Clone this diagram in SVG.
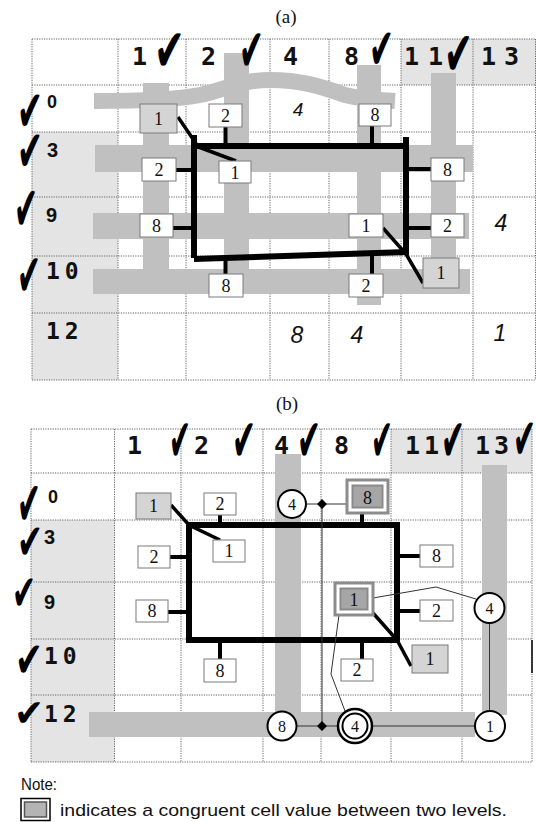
<svg xmlns="http://www.w3.org/2000/svg" width="536" height="822" viewBox="0 0 536 822">
<style>
.bg{fill:#fff}
.shade{fill:#e4e4e4}
.grid{stroke:#666;stroke-width:1;stroke-dasharray:1.2 1.2;fill:none}
.band{fill:#c0c0c0}
.bandp{fill:none;stroke:#c0c0c0;stroke-width:16;stroke-linecap:butt}
.frame{fill:none;stroke:#000;stroke-width:6}
.stem{stroke:#000;stroke-width:4;fill:none}
.diag{stroke:#000;stroke-width:3.5;fill:none}
.thin{stroke:#333;stroke-width:1;fill:none}
.bx{fill:#fff;stroke:#7a7a7a;stroke-width:1}
.sb{fill:#d4d4d4;stroke:#7a7a7a;stroke-width:1}
.co{fill:#fff;stroke:#8c8c8c;stroke-width:3}
.ci{fill:#a6a6a6;stroke:#8a8a8a;stroke-width:2}
.cir{fill:#fff;stroke:#000;stroke-width:2}
.bt{font-family:"Liberation Serif",serif;font-size:18px;text-anchor:middle;fill:#111}
.hd{font-family:"DejaVu Sans Mono",monospace;font-weight:bold;font-size:25px;fill:#111}
.rl{font-family:"Liberation Sans",sans-serif;font-weight:bold;font-size:20px;fill:#111}
.rm{font-family:"DejaVu Sans Mono",monospace;font-weight:bold;font-size:23px;letter-spacing:5px;fill:#111}
.it{font-family:"Liberation Sans",sans-serif;font-style:italic;font-size:23px;text-anchor:middle;fill:#111}
.ck{font-family:"DejaVu Sans",sans-serif;fill:#000}
.ti{font-family:"Liberation Serif",serif;font-size:19px;text-anchor:middle;fill:#111}
.nt{font-family:"Liberation Sans",sans-serif;font-size:17px;fill:#111}
</style>
<rect class="bg" x="0" y="0" width="536" height="822"/>

<text class="ti" x="286" y="23">(a)</text>
<text class="ti" x="287" y="410">(b)</text>

<g id="panel-a">
  <g id="a-shading">
    <rect class="shade" x="401" y="39" width="135" height="46"/>
    <rect class="shade" x="32" y="132" width="86" height="248"/>
  </g>
  <g id="a-grid">
    <path class="grid" d="M32,39V380M118,39V380M186,39V380M270,39V380M329,39V380M401,39V380M473,39V380M535.5,39V380"/>
    <path class="grid" d="M32,39H536M32,85H536M32,132H536M32,197H536M32,256H536M32,313H536M32,380H536"/>
  </g>
  <g id="a-bands">
    <rect class="band" x="143" y="83" width="26" height="210"/>
    <rect class="band" x="224" y="53" width="25" height="240"/>
    <rect class="band" x="357" y="65" width="24" height="240"/>
    <rect class="band" x="431" y="73" width="25" height="190"/>
    <path class="bandp" d="M94,101 C140,101 175,100 200,95 C225,90 240,80 270,80 C300,80 320,86 345,95 C365,100 380,100 395,101"/>
    <rect class="band" x="95" y="145" width="378" height="27"/>
    <rect class="band" x="93" y="213" width="376" height="26"/>
    <rect class="band" x="93" y="269" width="377" height="25"/>
  </g>
  <g id="a-frame">
    <path class="frame" d="M194,135V258M191,146H406M406,137V255M194,259L407,252"/>
  </g>
  <g id="a-connectors">
    <path class="stem" d="M225.5,127V146M372,126V146M176,170H194M406,169H431M173,228H194M406,228H431M225.5,258V274M372,252V274"/>
    <path class="diag" d="M178,117L197,145M196,146L236,161M383,228L406,254L423,283"/>
  </g>
  <g id="a-boxes">
    <g id="a-r0-1"><rect class="sb" x="140" y="104" width="37" height="29"/><text class="bt" x="158.5" y="125">1</text></g>
    <g id="a-r0-2"><rect class="bx" x="209" y="104" width="33" height="23"/><text class="bt" x="225.5" y="122">2</text></g>
    <g id="a-r0-8"><rect class="bx" x="359" y="104" width="32" height="22"/><text class="bt" x="375" y="121">8</text></g>
    <g id="a-r3-2"><rect class="bx" x="142" y="158" width="34" height="23"/><text class="bt" x="159" y="176">2</text></g>
    <g id="a-r3-1"><rect class="bx" x="219" y="161" width="32" height="22"/><text class="bt" x="235" y="179">1</text></g>
    <g id="a-r3-8"><rect class="bx" x="431" y="158" width="33" height="23"/><text class="bt" x="447.5" y="176">8</text></g>
    <g id="a-r9-8"><rect class="bx" x="140" y="214" width="33" height="23"/><text class="bt" x="156.5" y="232">8</text></g>
    <g id="a-r9-1"><rect class="bx" x="349" y="214" width="34" height="23"/><text class="bt" x="366" y="232">1</text></g>
    <g id="a-r9-2"><rect class="bx" x="431" y="214" width="33" height="23"/><text class="bt" x="447.5" y="232">2</text></g>
    <g id="a-r10-1"><rect class="sb" x="423" y="258" width="36" height="30"/><text class="bt" x="441" y="279">1</text></g>
    <g id="a-r10-8"><rect class="bx" x="209" y="274" width="34" height="23"/><text class="bt" x="226" y="292">8</text></g>
    <g id="a-r10-2"><rect class="bx" x="349" y="274" width="34" height="23"/><text class="bt" x="366" y="292">2</text></g>
  </g>
  <g id="a-values">
    <text class="it" x="298" y="116" style="font-size:19px">4</text>
    <text class="it" x="501" y="231">4</text>
    <text class="it" x="297" y="343">8</text>
    <text class="it" x="357" y="343">4</text>
    <text class="it" x="500" y="341">1</text>
  </g>
  <g id="a-labels">
    <text class="hd" x="132" y="65">1</text>
    <text class="hd" x="201" y="65">2</text>
    <text class="hd" x="283" y="65">4</text>
    <text class="hd" x="344" y="65">8</text>
    <text class="hd" x="404" y="65" style="letter-spacing:9px">11</text>
    <text class="hd" x="481" y="65" style="letter-spacing:8px">13</text>
    <text class="rl" x="47" y="108" style="font-size:18px">0</text>
    <text class="rl" x="47" y="157">3</text>
    <text class="rl" x="46" y="222">9</text>
    <text class="rm" x="46" y="279">10</text>
    <text class="rm" x="46" y="339">12</text>
  </g>
  <g id="a-checks">
    <text class="ck" x="154" y="71" font-size="60" textLength="31" lengthAdjust="spacingAndGlyphs">✔</text>
    <text class="ck" x="239" y="71" font-size="60" textLength="25" lengthAdjust="spacingAndGlyphs">✔</text>
    <text class="ck" x="369" y="69" font-size="58" textLength="25" lengthAdjust="spacingAndGlyphs">✔</text>
    <text class="ck" x="444" y="75" font-size="62" textLength="29" lengthAdjust="spacingAndGlyphs">✔</text>
    <text class="ck" x="17" y="131" font-size="58" textLength="26" lengthAdjust="spacingAndGlyphs">✔</text>
    <text class="ck" x="17" y="171" font-size="58" textLength="26" lengthAdjust="spacingAndGlyphs">✔</text>
    <text class="ck" x="14" y="230" font-size="62" textLength="24" lengthAdjust="spacingAndGlyphs">✔</text>
    <text class="ck" x="17" y="296" font-size="60" textLength="24" lengthAdjust="spacingAndGlyphs">✔</text>
  </g>
</g>

<g id="panel-b">
  <g id="b-shading">
    <rect class="shade" x="391" y="429" width="141" height="44"/>
    <rect class="shade" x="31" y="520" width="83.5" height="242"/>
  </g>
  <g id="b-grid">
    <path class="grid" d="M31,429V762M114.5,429V762M181,429V762M263,429V762M321,429V762M391,429V762M462,429V762M532,429V762"/>
    <path class="grid" d="M31,429H532M31,473H532M31,520H532M31,582H532M31,639H532M31,695H532M31,762H532"/>
    <path d="M532,640V673" stroke="#000" stroke-width="1.5"/>
  </g>
  <g id="b-bands">
    <rect class="band" x="275" y="454" width="26" height="260"/>
    <rect class="band" x="482" y="465" width="25" height="250"/>
    <rect class="band" x="89" y="712" width="386" height="25"/>
  </g>
  <g id="b-frame">
    <rect class="frame" x="189" y="525" width="208" height="115"/>
  </g>
  <g id="b-connectors">
    <path class="stem" d="M220,515V525M362,513V525M170,557H189M397,556H420M168,612H189M397,611H420M220,640V659M362,640V659"/>
    <path class="diag" d="M171,505L189,525L220,540M373,613L397,640L411,666"/>
    <path class="thin" d="M306,504H347M322,504V726M296.5,726H338M372,726H475M373,598L436,587L476,599M339,615L331,674L345,711M489.5,623V711"/>
    <path d="M322,499L327,504L322,509L317,504Z M322,721L327,726L322,731L317,726Z" fill="#000"/>
  </g>
  <g id="b-boxes">
    <g id="b-r0-1"><rect class="sb" x="136" y="493" width="35" height="26"/><text class="bt" x="153.5" y="512">1</text></g>
    <g id="b-r0-2"><rect class="bx" x="204" y="493" width="32" height="22"/><text class="bt" x="220" y="510">2</text></g>
    <g id="b-r0-8"><rect class="co" x="347" y="480" width="41" height="33"/><rect class="ci" x="352.5" y="485.5" width="30" height="22"/><text class="bt" x="367.5" y="504">8</text></g>
    <g id="b-r3-2"><rect class="bx" x="138" y="546" width="32" height="22"/><text class="bt" x="154" y="563">2</text></g>
    <g id="b-r3-1"><rect class="bx" x="213" y="540" width="32" height="22"/><text class="bt" x="229" y="557">1</text></g>
    <g id="b-r3-8"><rect class="bx" x="420" y="545" width="33" height="22"/><text class="bt" x="436.5" y="562">8</text></g>
    <g id="b-r9-8"><rect class="bx" x="136" y="600" width="32" height="22"/><text class="bt" x="152" y="617">8</text></g>
    <g id="b-r9-1"><rect class="co" x="335" y="583" width="38" height="32"/><rect class="ci" x="340.5" y="588.5" width="27" height="21"/><text class="bt" x="354" y="606">1</text></g>
    <g id="b-r9-2"><rect class="bx" x="420" y="600" width="33" height="21"/><text class="bt" x="436.5" y="617">2</text></g>
    <g id="b-r10-1"><rect class="sb" x="412" y="645" width="36" height="28"/><text class="bt" x="430" y="665">1</text></g>
    <g id="b-r10-8"><rect class="bx" x="204" y="659" width="32" height="23"/><text class="bt" x="220" y="677">8</text></g>
    <g id="b-r10-2"><rect class="bx" x="341" y="659" width="32" height="22"/><text class="bt" x="357" y="676">2</text></g>
  </g>
  <g id="b-circles">
    <g id="b-c4a"><circle class="cir" cx="292" cy="504" r="14"/><text class="bt" x="292" y="510" style="font-size:16px">4</text></g>
    <g id="b-c4b"><circle class="cir" cx="489.5" cy="608" r="15"/><text class="bt" x="489.5" y="614" style="font-size:16px">4</text></g>
    <g id="b-c8"><circle class="cir" cx="282" cy="726" r="14.5"/><text class="bt" x="282" y="732" style="font-size:16px">8</text></g>
    <g id="b-c4c"><circle class="cir" cx="355" cy="726" r="17" style="stroke-width:2.5"/><circle class="cir" cx="355" cy="726" r="12.5"/><text class="bt" x="355" y="732" style="font-size:16px">4</text></g>
    <g id="b-c1"><circle class="cir" cx="490" cy="726" r="15"/><text class="bt" x="490" y="732" style="font-size:16px">1</text></g>
  </g>
  <g id="b-labels">
    <text class="hd" x="127" y="454">1</text>
    <text class="hd" x="194" y="454">2</text>
    <text class="hd" x="274" y="454">4</text>
    <text class="hd" x="334" y="454">8</text>
    <text class="hd" x="405" y="454" style="letter-spacing:4px">11</text>
    <text class="hd" x="475" y="454" style="letter-spacing:4px">13</text>
    <text class="rl" x="48" y="503" style="font-size:18px">0</text>
    <text class="rl" x="44" y="544">3</text>
    <text class="rl" x="44" y="609">9</text>
    <text class="rm" x="44" y="664">10</text>
    <text class="rm" x="44" y="722">12</text>
  </g>
  <g id="b-checks">
    <text class="ck" x="169" y="461" font-size="60" textLength="22" lengthAdjust="spacingAndGlyphs">✔</text>
    <text class="ck" x="232" y="461" font-size="60" textLength="24" lengthAdjust="spacingAndGlyphs">✔</text>
    <text class="ck" x="297" y="461" font-size="60" textLength="24" lengthAdjust="spacingAndGlyphs">✔</text>
    <text class="ck" x="371" y="461" font-size="60" textLength="22" lengthAdjust="spacingAndGlyphs">✔</text>
    <text class="ck" x="441" y="461" font-size="60" textLength="24" lengthAdjust="spacingAndGlyphs">✔</text>
    <text class="ck" x="513" y="459" font-size="58" textLength="23" lengthAdjust="spacingAndGlyphs">✔</text>
    <text class="ck" x="17" y="525" font-size="62" textLength="24" lengthAdjust="spacingAndGlyphs">✔</text>
    <text class="ck" x="17" y="559" font-size="50" textLength="26" lengthAdjust="spacingAndGlyphs">✔</text>
    <text class="ck" x="12" y="610" font-size="50" textLength="24" lengthAdjust="spacingAndGlyphs">✔</text>
    <text class="ck" x="15" y="677" font-size="50" textLength="28" lengthAdjust="spacingAndGlyphs">✔</text>
    <text class="ck" x="14" y="726" font-size="38" textLength="30" lengthAdjust="spacingAndGlyphs">✔</text>
  </g>
</g>

<g id="note">
  <text class="nt" x="21" y="790" textLength="36" lengthAdjust="spacingAndGlyphs">Note:</text>
  <g id="legend-icon">
    <rect x="21" y="798.5" width="29" height="22" fill="#fff" stroke="#000" stroke-width="1.5"/>
    <rect x="24.5" y="802" width="22" height="15" fill="#b4b4b4" stroke="#555" stroke-width="1.5"/>
  </g>
  <text class="nt" x="60" y="816" textLength="447" lengthAdjust="spacingAndGlyphs">indicates a congruent cell value between two levels.</text>
</g>
</svg>
